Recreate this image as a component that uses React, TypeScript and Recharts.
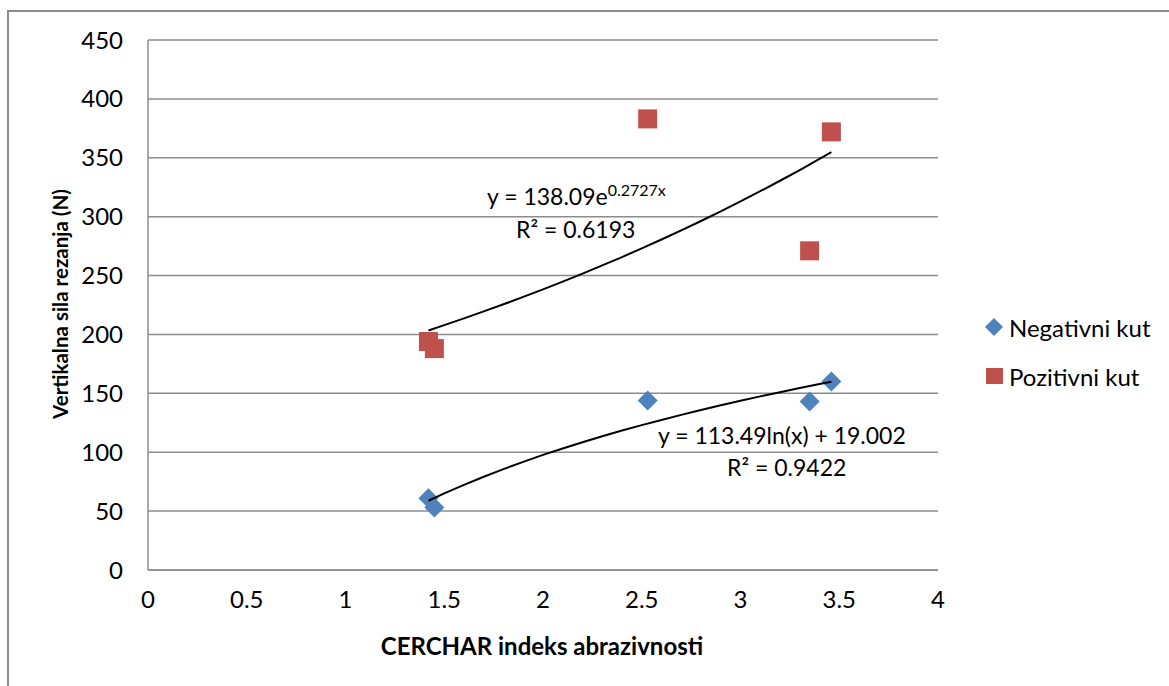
import React from 'react';
import { ScatterChart, Scatter, XAxis, YAxis, CartesianGrid } from 'recharts';

const negativniKut = [
  { x: 1.42, y: 61 },
  { x: 1.45, y: 53 },
  { x: 2.53, y: 144 },
  { x: 3.35, y: 143 },
  { x: 3.46, y: 160 },
];
const pozitivniKut = [
  { x: 1.42, y: 194 },
  { x: 1.45, y: 188 },
  { x: 2.53, y: 383 },
  { x: 3.35, y: 271 },
  { x: 3.46, y: 372 },
];
// trendline points
const expTrend = [
  { x: 1.42, y: 203.4 }, { x: 1.5, y: 207.9 }, { x: 1.6, y: 213.6 }, { x: 1.7, y: 219.6 },
  { x: 1.8, y: 225.6 }, { x: 1.9, y: 231.9 }, { x: 2.0, y: 238.3 }, { x: 2.1, y: 244.9 },
  { x: 2.2, y: 251.6 }, { x: 2.3, y: 258.6 }, { x: 2.4, y: 265.7 }, { x: 2.5, y: 273.1 },
  { x: 2.6, y: 280.6 }, { x: 2.7, y: 288.4 }, { x: 2.8, y: 296.3 }, { x: 2.9, y: 304.5 },
  { x: 3.0, y: 312.9 }, { x: 3.1, y: 321.6 }, { x: 3.2, y: 330.5 }, { x: 3.3, y: 339.6 },
  { x: 3.4, y: 349.0 }, { x: 3.46, y: 354.8 },
];
const logTrend = [
  { x: 1.42, y: 58.8 }, { x: 1.5, y: 65.0 }, { x: 1.6, y: 72.3 }, { x: 1.7, y: 79.2 },
  { x: 1.8, y: 85.7 }, { x: 1.9, y: 91.8 }, { x: 2.0, y: 97.7 }, { x: 2.1, y: 103.2 },
  { x: 2.2, y: 108.5 }, { x: 2.3, y: 113.5 }, { x: 2.4, y: 118.4 }, { x: 2.5, y: 123.0 },
  { x: 2.6, y: 127.4 }, { x: 2.7, y: 131.7 }, { x: 2.8, y: 135.9 }, { x: 2.9, y: 139.8 },
  { x: 3.0, y: 143.7 }, { x: 3.1, y: 147.4 }, { x: 3.2, y: 151.0 }, { x: 3.3, y: 154.5 },
  { x: 3.4, y: 157.9 }, { x: 3.46, y: 159.9 },
];
const xTicks = [0, 0.5, 1, 1.5, 2, 2.5, 3, 3.5, 4];
const yTicks = [0, 50, 100, 150, 200, 250, 300, 350, 400, 450];

const BLUE = '#4F81BD';
const RED = '#C0504D';
const FONT = 'Lato, "Open Sans", sans-serif';

const Diamond = (props: any) => {
  const { cx, cy } = props;
  const r = 10;
  return <polygon points={`${cx},${cy - r} ${cx + r},${cy} ${cx},${cy + r} ${cx - r},${cy}`} fill={BLUE} />;
};
const Square = (props: any) => {
  const { cx, cy } = props;
  const s = 19;
  return <rect x={cx - s / 2} y={cy - s / 2} width={s} height={s} fill={RED} />;
};
const NoShape = () => null;

export default function App() {
  return (
    <div style={{ position: 'absolute', left: 0, top: 0, width: 1169, height: 686, background: '#fff' }}>
      <div style={{ position: 'absolute', left: 7, top: 10, width: 1162, height: 676, borderTop: '2px solid #8c8c8c', borderLeft: '2px solid #8c8c8c' }} />
      <div style={{ position: 'absolute', left: 0, top: 0 }}>
        <ScatterChart width={1169} height={686} margin={{ top: 40, right: 231, bottom: 76, left: 68 }}>
          <CartesianGrid horizontal vertical={false} stroke="#8c8c8c" strokeWidth={1.5} />
          <XAxis
            type="number"
            dataKey="x"
            domain={[0, 4]}
            ticks={xTicks}
            height={40}
            axisLine={{ stroke: '#8c8c8c', strokeWidth: 1.5 }}
            tickLine={false}
            tickSize={6}
            tickMargin={15}
            tick={{ fill: '#000', fontSize: 24, fontFamily: FONT }}
            interval={0}
          />
          <YAxis
            type="number"
            dataKey="y"
            domain={[0, 450]}
            ticks={yTicks}
            width={80}
            axisLine={{ stroke: '#8c8c8c', strokeWidth: 1.5 }}
            tickLine={false}
            tickSize={6}
            tickMargin={19}
            tick={{ fill: '#000', fontSize: 24, fontFamily: FONT }}
            interval={0}
          />
          <Scatter name="Negativni kut" data={negativniKut} shape={<Diamond />} isAnimationActive={false} legendType="none" />
          <Scatter name="Pozitivni kut" data={pozitivniKut} shape={<Square />} isAnimationActive={false} legendType="none" />
          <Scatter name="expTrend" data={expTrend} line={{ stroke: '#000', strokeWidth: 2 }} lineType="joint" shape={<NoShape />} isAnimationActive={false} legendType="none" />
          <Scatter name="logTrend" data={logTrend} line={{ stroke: '#000', strokeWidth: 2 }} lineType="joint" shape={<NoShape />} isAnimationActive={false} legendType="none" />
        </ScatterChart>
      </div>
      <svg width={1169} height={686} style={{ position: 'absolute', left: 0, top: 0, pointerEvents: 'none' }} fontFamily={FONT}>
        <text x={60} y={304} transform="rotate(-90 60 304)" textAnchor="middle" dominantBaseline="central" fontSize={20.5} fontWeight="bold" fill="#000">
          Vertikalna sila rezanja (N)
        </text>
        <text x={542} y={645} textAnchor="middle" dominantBaseline="central" fontSize={24} fontWeight="bold" fill="#000">
          CERCHAR indeks abrazivnosti
        </text>
        <text x={487} y={205} fontSize={23} fill="#000">
          y = 138.09e<tspan fontSize={16} dy={-9}>0.2727x</tspan>
        </text>
        <text x={516} y={238} fontSize={23} fill="#000">
          R² = 0.6193
        </text>
        <text x={658} y={444} fontSize={23} fill="#000">
          y = 113.49ln(x) + 19.002
        </text>
        <text x={727} y={476} fontSize={23} fill="#000">
          R² = 0.9422
        </text>
        <polygon points="994,318 1003,327 994,336 985,327" fill={BLUE} />
        <text x={1009} y={327} dominantBaseline="central" fontSize={24} fill="#000">Negativni kut</text>
        <rect x={986} y={368} width={17} height={16} fill={RED} />
        <text x={1009} y={376} dominantBaseline="central" fontSize={24} fill="#000">Pozitivni kut</text>
      </svg>
    </div>
  );
}
